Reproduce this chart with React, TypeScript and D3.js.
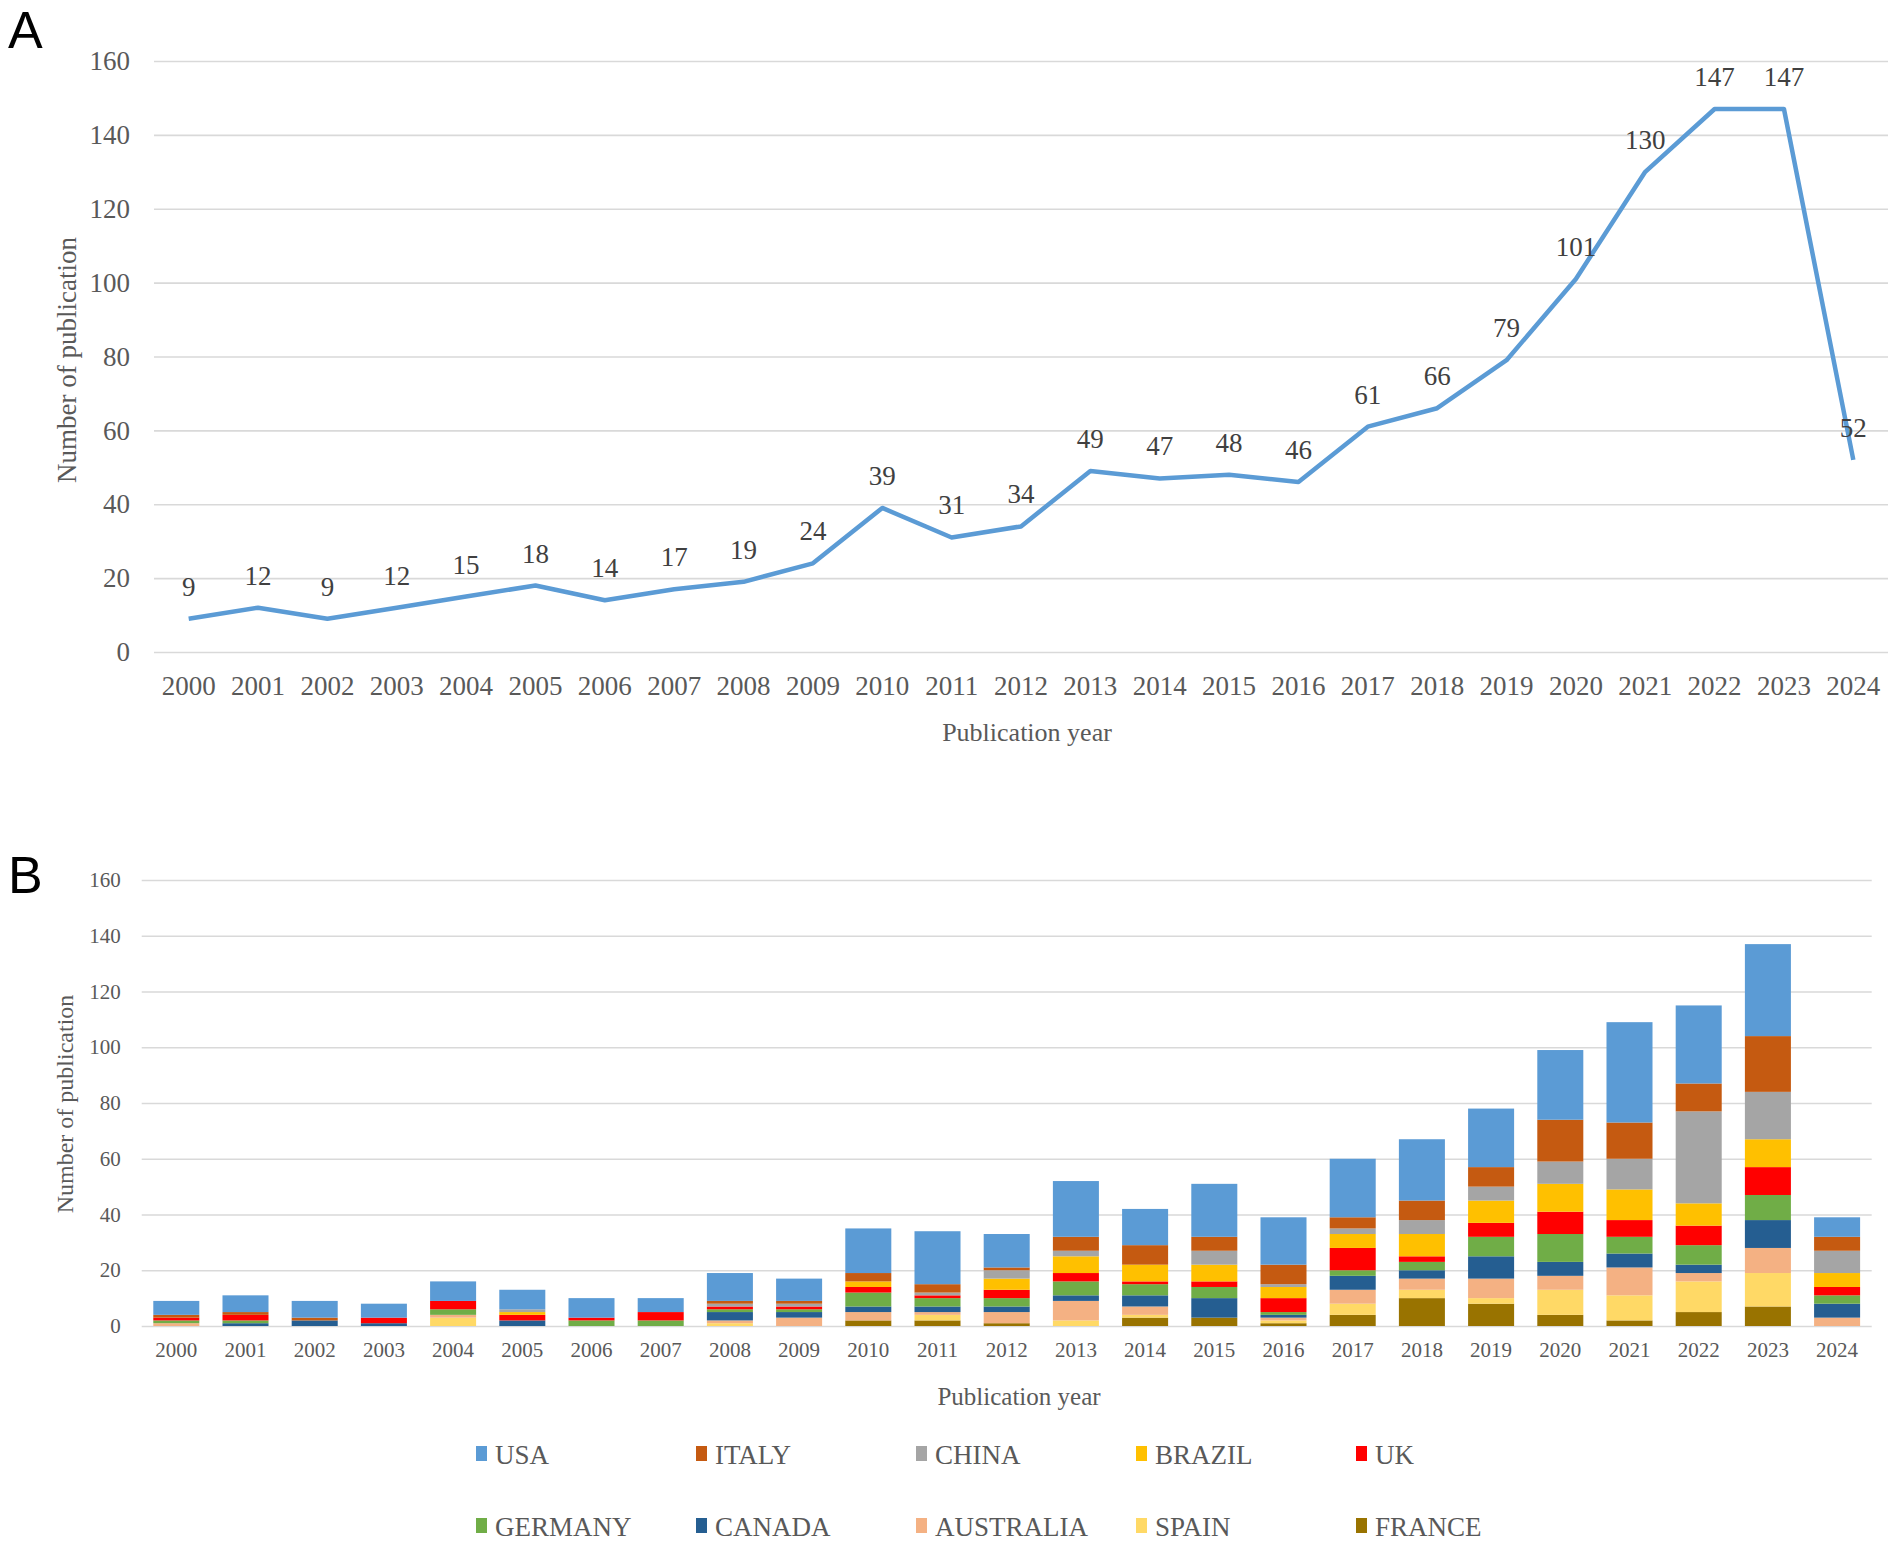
import React, { useEffect, useRef } from "react";
import * as d3 from "d3";

// categories
const years = [
  "2000", "2001", "2002", "2003", "2004", "2005", "2006", "2007", "2008", "2009",
  "2010", "2011", "2012", "2013", "2014", "2015", "2016", "2017", "2018", "2019",
  "2020", "2021", "2022", "2023", "2024",
];

// panel A: total publications per year
const totals = [9, 12, 9, 12, 15, 18, 14, 17, 19, 24, 39, 31, 34, 49, 47, 48, 46, 61, 66, 79, 101, 130, 147, 147, 52];

// panel B: publications per country per year (2000..2024)
const usa = [5, 6, 6, 5, 7, 7, 7, 5, 10, 8, 16, 19, 12, 20, 13, 19, 17, 21, 22, 21, 25, 36, 28, 33, 7];
const italy = [1, 1, 1, 0, 0, 0, 0, 0, 1, 1, 3, 3, 1, 5, 7, 5, 7, 4, 7, 7, 15, 13, 10, 20, 5];
const china = [0, 0, 0, 0, 0, 1, 0, 0, 1, 1, 0, 1, 3, 2, 0, 5, 1, 2, 5, 5, 8, 11, 33, 17, 8];
const brazil = [0, 0, 0, 0, 0, 1, 0, 0, 0, 0, 2, 0, 4, 6, 6, 6, 4, 5, 8, 8, 10, 11, 8, 10, 5];
const uk = [1, 2, 0, 2, 3, 2, 1, 3, 1, 1, 2, 1, 3, 3, 1, 2, 5, 8, 2, 5, 8, 6, 7, 10, 3];
const germany = [1, 1, 0, 0, 2, 0, 2, 2, 1, 1, 5, 3, 3, 5, 4, 4, 1, 2, 3, 7, 10, 6, 7, 9, 3];
const canada = [0, 1, 2, 1, 0, 2, 0, 0, 3, 2, 2, 2, 2, 2, 4, 7, 1, 5, 3, 8, 5, 5, 3, 10, 5];
const australia = [1, 0, 0, 0, 1, 0, 0, 0, 1, 3, 3, 1, 4, 7, 3, 0, 1, 5, 4, 7, 5, 10, 3, 9, 3];
const spain = [0, 0, 0, 0, 3, 0, 0, 0, 1, 0, 0, 2, 0, 2, 1, 0, 1, 4, 3, 2, 9, 9, 11, 12, 0];
const france = [0, 0, 0, 0, 0, 0, 0, 0, 0, 0, 2, 2, 1, 0, 3, 3, 1, 4, 10, 8, 4, 2, 5, 7, 0];

const countries = ["USA", "ITALY", "CHINA", "BRAZIL", "UK", "GERMANY", "CANADA", "AUSTRALIA", "SPAIN", "FRANCE"];
const countryValues = [usa, italy, china, brazil, uk, germany, canada, australia, spain, france];
const countryColors = ["#5B9BD5", "#C55A11", "#A5A5A5", "#FFC000", "#FF0000", "#70AD47", "#255E91", "#F4B183", "#FFD966", "#997300"];

const yTicks = [0, 20, 40, 60, 80, 100, 120, 140, 160];

const SERIF = "'Liberation Serif', 'Times New Roman', serif";
const SANS = "'Liberation Sans', Arial, sans-serif";

function App() {
  const ref = useRef<SVGSVGElement>(null);

  useEffect(() => {
    document.body.style.margin = "0";
    const svg = d3.select(ref.current);
    svg.selectAll("*").remove();

    // ---------- panel A ----------
    const a = { left: 154, right: 1888, top: 61, bottom: 652 };
    const xA = d3.scaleBand().domain(years).range([a.left, a.right]);
    const yA = d3.scaleLinear().domain([0, 160]).range([a.bottom, a.top]);

    svg.append("text").attr("x", 8).attr("y", 48)
      .attr("font-family", SANS).attr("font-size", 52).attr("fill", "#000").text("A");

    const gyA = svg.append("g").attr("transform", `translate(${a.left},0)`)
      .call(d3.axisLeft(yA).tickValues(yTicks).tickSize(-(a.right - a.left)).tickPadding(24));
    gyA.select(".domain").remove();
    gyA.selectAll("line").attr("stroke", "#D9D9D9").attr("stroke-width", 1.6);
    gyA.selectAll("text").attr("font-family", SERIF).attr("font-size", 27).attr("fill", "#595959");

    const gxA = svg.append("g").attr("transform", `translate(0,${a.bottom})`)
      .call(d3.axisBottom(xA).tickSize(0).tickPadding(24));
    gxA.select(".domain").remove();
    gxA.selectAll("text").attr("font-family", SERIF).attr("font-size", 27).attr("fill", "#595959");

    const line = d3.line<number>()
      .x((_, i) => (xA(years[i]) as number) + xA.bandwidth() / 2)
      .y(d => yA(d));
    svg.append("path").datum(totals).attr("d", line)
      .attr("fill", "none").attr("stroke", "#5B9BD5").attr("stroke-width", 4.5)
      .attr("stroke-linejoin", "round");

    // value labels above each point
    svg.append("g").selectAll("text").data(totals).enter().append("text")
      .attr("x", (_, i) => (xA(years[i]) as number) + xA.bandwidth() / 2)
      .attr("y", d => yA(d) - 23)
      .attr("text-anchor", "middle")
      .attr("font-family", SERIF).attr("font-size", 27).attr("fill", "#404040")
      .text(d => d);

    svg.append("text")
      .attr("transform", `translate(67,360) rotate(-90)`)
      .attr("text-anchor", "middle").attr("dominant-baseline", "central")
      .attr("font-family", SERIF).attr("font-size", 27).attr("fill", "#595959")
      .text("Number of publication");

    svg.append("text").attr("x", 1027).attr("y", 741).attr("text-anchor", "middle")
      .attr("font-family", SERIF).attr("font-size", 26).attr("fill", "#595959")
      .text("Publication year");

    // ---------- panel B ----------
    const b = { left: 141.7, right: 1871.7, top: 880, bottom: 1326 };
    const xB = d3.scaleBand().domain(years).range([b.left, b.right]).paddingInner(0.335).paddingOuter(0.1675);
    const yB = d3.scaleLinear().domain([0, 160]).range([b.bottom, b.top]);

    svg.append("text").attr("x", 8).attr("y", 893)
      .attr("font-family", SANS).attr("font-size", 52).attr("fill", "#000").text("B");

    const gyB = svg.append("g").attr("transform", `translate(${b.left},0)`)
      .call(d3.axisLeft(yB).tickValues(yTicks).tickSize(-(b.right - b.left)).tickPadding(21));
    gyB.select(".domain").remove();
    gyB.selectAll("line").attr("stroke", "#D9D9D9").attr("stroke-width", 1.6);
    gyB.selectAll("text").attr("font-family", SERIF).attr("font-size", 21).attr("fill", "#595959");

    const rows = years.map((yr, i) => {
      const r: any = { year: yr };
      countries.forEach((c, k) => { r[c] = countryValues[k][i]; });
      return r;
    });
    const stackKeys = countries.slice().reverse(); // FRANCE at bottom, USA on top
    const stacked = d3.stack<any>().keys(stackKeys)(rows);
    const color = d3.scaleOrdinal<string, string>().domain(countries).range(countryColors);

    svg.append("g").selectAll("g").data(stacked).enter().append("g")
      .attr("fill", d => color(d.key))
      .selectAll("rect").data(d => d).enter().append("rect")
      .attr("x", d => xB(d.data.year) as number)
      .attr("y", d => yB(d[1]))
      .attr("height", d => yB(d[0]) - yB(d[1]))
      .attr("width", xB.bandwidth());

    const gxB = svg.append("g").attr("transform", `translate(0,${b.bottom})`)
      .call(d3.axisBottom(xB).tickSize(0).tickPadding(16));
    gxB.select(".domain").remove();
    gxB.selectAll("text").attr("font-family", SERIF).attr("font-size", 21).attr("fill", "#595959");

    svg.append("text")
      .attr("transform", `translate(65,1104) rotate(-90)`)
      .attr("text-anchor", "middle").attr("dominant-baseline", "central")
      .attr("font-family", SERIF).attr("font-size", 24).attr("fill", "#595959")
      .text("Number of publication");

    svg.append("text").attr("x", 1019).attr("y", 1405).attr("text-anchor", "middle")
      .attr("font-family", SERIF).attr("font-size", 25).attr("fill", "#595959")
      .text("Publication year");

    // legend
    const legendX = d3.scalePoint<number>().domain([0, 1, 2, 3, 4]).range([476, 1356]);
    const legendY = d3.scalePoint<number>().domain([0, 1]).range([1454, 1526]);
    const lg = svg.append("g").selectAll("g").data(countries).enter().append("g")
      .attr("transform", (_, i) => `translate(${legendX(i % 5)},${legendY(Math.floor(i / 5))})`);
    lg.append("rect").attr("x", 0).attr("y", -8).attr("width", 11).attr("height", 15)
      .attr("fill", d => color(d));
    lg.append("text").attr("x", 19).attr("y", 10)
      .attr("font-family", SERIF).attr("font-size", 27).attr("fill", "#595959")
      .text(d => d);
  }, []);

  return (
    <div id="chartContainer">
      <svg ref={ref} width={1902} height={1554} style={{ display: "block", background: "#fff" }} />
    </div>
  );
}

export default App;
